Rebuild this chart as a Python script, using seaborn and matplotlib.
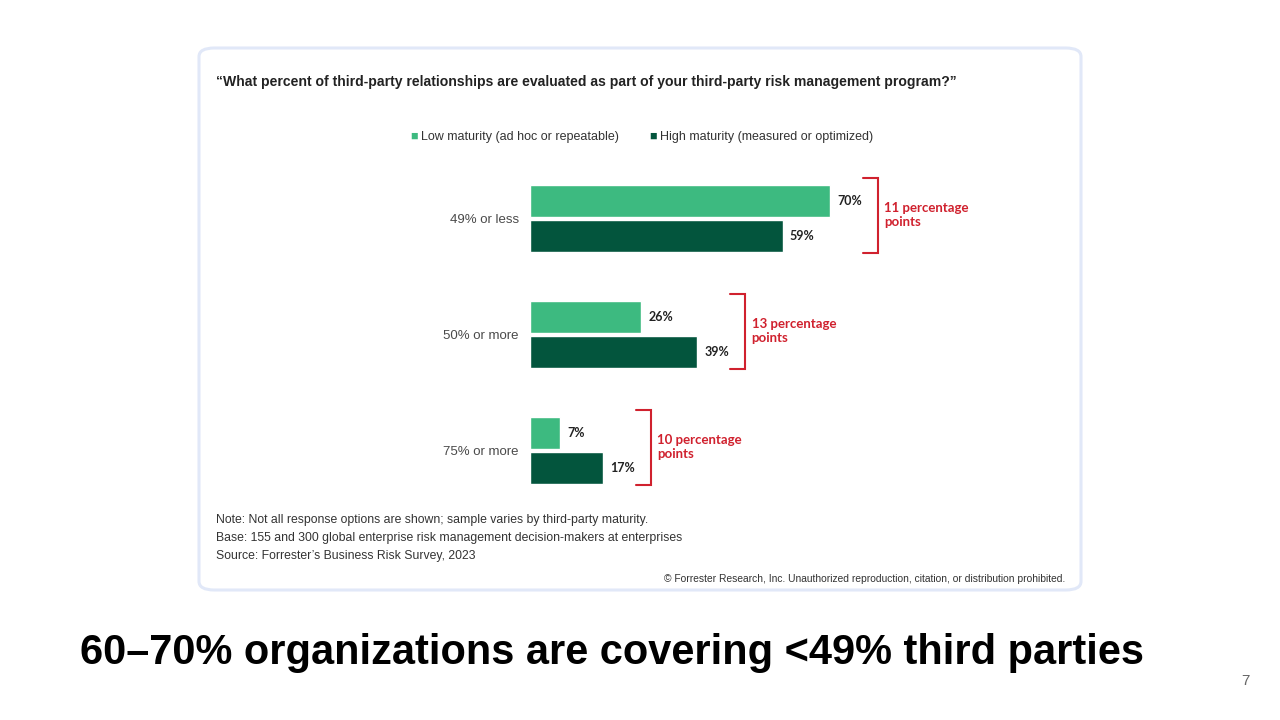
import pandas as pd
import seaborn as sns
import matplotlib.pyplot as plt
from matplotlib.patches import FancyBboxPatch

# data
categories = ["49% or less", "50% or more", "75% or more"]
low_maturity = [70, 26, 7]
high_maturity = [59, 39, 17]
series_names = ["Low maturity (ad hoc or repeatable)", "High maturity (measured or optimized)"]
gap_labels = ["11 percentage\npoints", "13 percentage\npoints", "10 percentage\npoints"]

title = "\u201cWhat percent of third-party relationships are evaluated as part of your third-party risk management program?\u201d"
notes = ["Note: Not all response options are shown; sample varies by third-party maturity.",
         "Base: 155 and 300 global enterprise risk management decision-makers at enterprises",
         "Source: Forrester\u2019s Business Risk Survey, 2023"]
copyright_txt = "\u00a9 Forrester Research, Inc. Unauthorized reproduction, citation, or distribution prohibited."
headline = "60\u201370% organizations are covering <49% third parties"

df = pd.DataFrame({
    "category": categories * 2,
    "value": low_maturity + high_maturity,
    "series": [series_names[0]] * 3 + [series_names[1]] * 3,
})

LIGHT = "#3dba80"
DARK = "#03553d"
RED = "#d0212e"

sns.set_theme(style="white")
plt.rcParams['font.family'] = ['Liberation Sans', 'DejaVu Sans']

fig = plt.figure(figsize=(12.8, 7.2), dpi=100)
W, H = 1280, 720

# card background
card = FancyBboxPatch((199 / W, 1 - 590 / H), 882 / W, 542 / H,
                      boxstyle="round,pad=0,rounding_size=0.012",
                      transform=fig.transFigure, facecolor="white",
                      edgecolor="#e1e8f8", linewidth=2.2, zorder=-5)
fig.patches.append(card)

ax = fig.add_axes([530 / W, 1 - 508.5 / H, 428.57 / W, 348 / H])
ax.patch.set_alpha(0)
sns.barplot(data=df, y="category", x="value", hue="series", orient="h",
            palette=[LIGHT, DARK], width=0.6, gap=0.1, ax=ax, legend=False,
            saturation=1)
ax.set_xlim(0, 100)
ax.set_ylim(2.5, -0.5)
ax.set_xlabel("")
ax.set_ylabel("")
ax.set_xticks([])
for s in ax.spines.values():
    s.set_visible(False)
ax.tick_params(axis="y", length=0, pad=8, labelsize=9.5, labelcolor="#4a4a4a")

# value labels
for container in ax.containers:
    ax.bar_label(container, labels=[f"{v:.0f}%" for v in container.datavalues],
                 padding=5, fontsize=9, fontweight="bold", color="#222222",
                 family=["Lato", "DejaVu Sans"])

# brackets
for i, (a, b) in enumerate(zip(low_maturity, high_maturity)):
    x0 = max(a, b) + 7.7
    x1 = x0 + 3.5
    y0, y1 = i - 0.35, i + 0.30
    ax.plot([x0, x1, x1, x0], [y0, y0, y1, y1], color=RED, lw=1.5,
            clip_on=False, solid_joinstyle="miter")
    ax.text(x1 + 1.5, i - 0.03, gap_labels[i], color=RED, fontsize=9.5,
            fontweight="bold", va="center", ha="left", linespacing=1.15,
            family=["Lato", "DejaVu Sans"])

# legend (manual)
fig.text(410 / W, 1 - 137 / H, "\u25a0", color=LIGHT, fontsize=9, va="center", ha="left")
fig.text(421 / W, 1 - 137 / H, series_names[0], color="#333333", fontsize=9, va="center")
fig.text(649 / W, 1 - 137 / H, "\u25a0", color=DARK, fontsize=9, va="center", ha="left")
fig.text(660 / W, 1 - 137 / H, series_names[1], color="#333333", fontsize=9, va="center")

# title
fig.text(216 / W, 1 - 82 / H, title, fontsize=10.1, fontweight="bold",
         color="#222222", va="center", ha="left")

# notes
for j, line in enumerate(notes):
    fig.text(216 / W, 1 - (520 + 18 * j) / H, line, fontsize=8.8,
             color="#333333", va="center", ha="left")
fig.text(1065 / W, 1 - 579 / H, copyright_txt, fontsize=7.4,
         color="#333333", va="center", ha="right")

# headline
fig.text(80 / W, 1 - 653 / H, headline, fontsize=29.9, fontweight="bold",
         color="black", va="center", ha="left")
fig.text(1245 / W, 1 - 681 / H, "7", fontsize=11, color="#666666",
         va="center", ha="center")

fig.savefig("out.png", dpi=100)
